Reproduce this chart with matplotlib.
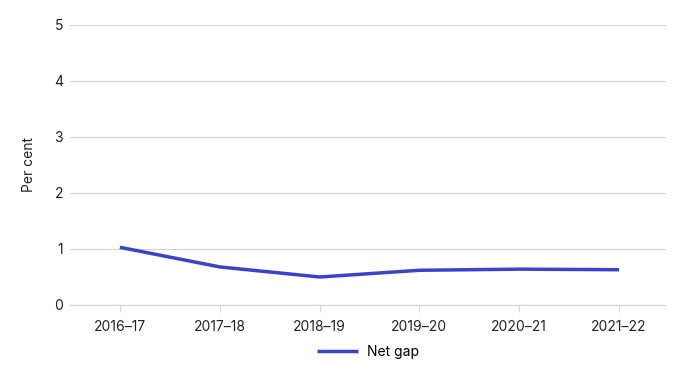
import matplotlib
matplotlib.use("Agg")
import matplotlib.pyplot as plt

years = ["2016–17", "2017–18", "2018–19", "2019–20", "2020–21", "2021–22"]
net_gap = [1.03, 0.68, 0.50, 0.62, 0.64, 0.63]
y_ticks = [0, 1, 2, 3, 4, 5]

plt.rcParams['font.family'] = ['Inter', 'DejaVu Sans']

fig = plt.figure(figsize=(6.89, 3.77), dpi=100)
ax = fig.add_axes([70 / 689, 1 - 305 / 377, 596 / 689, 280 / 377])

x = list(range(len(years)))
ax.plot(x, net_gap, color="#3a43c9", linewidth=2.5, label="Net gap", solid_capstyle="butt")

ax.set_xlim(-0.5, 5.47)
ax.set_ylim(0, 5)
ax.set_yticks(y_ticks)
ax.set_xticks(x)
ax.set_xticklabels(years)
ax.grid(axis="y", color="#d6d6d6", linewidth=0.9)
ax.set_axisbelow(True)
for s in ["top", "right", "left"]:
    ax.spines[s].set_visible(False)
ax.spines["bottom"].set_color("#d6d6d6")
ax.tick_params(axis="y", length=0, pad=5, labelsize=10, colors="#222222")
ax.tick_params(axis="x", length=5, color="#d6d6d6", pad=6, labelsize=10, labelcolor="#222222")
ax.set_ylabel("Per cent", fontsize=10, color="#222222")
ax.yaxis.set_label_coords((36 - 70) / 596, 0.5)

# legend sits centred under the plot area, not the figure
ax.legend(loc="center", bbox_to_anchor=(0.5, (305 - 352) / 280), frameon=False,
          fontsize=10, handlelength=2.9, handletextpad=0.65)

fig.savefig("out.png", dpi=100)
